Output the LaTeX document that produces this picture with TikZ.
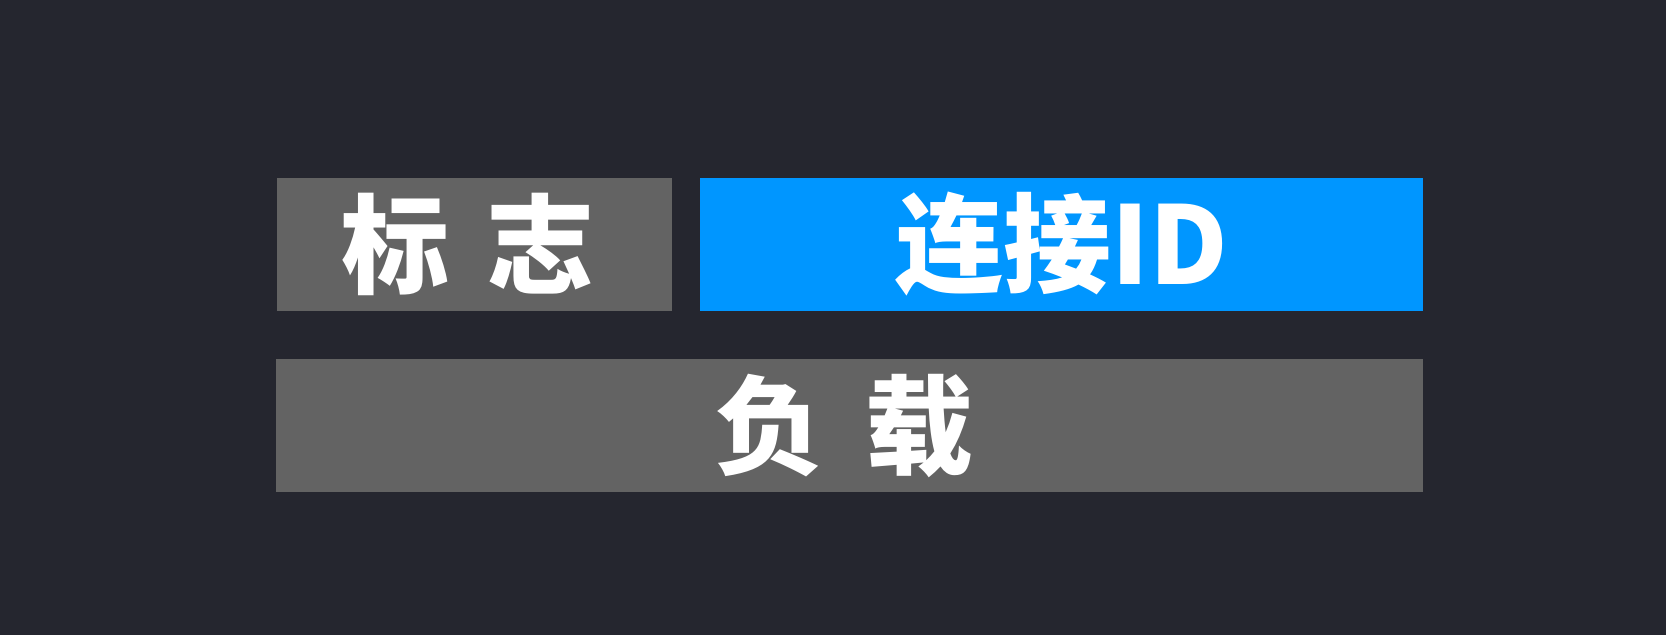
\documentclass[tikz,border=0pt]{standalone}
\usepackage{fontspec}
\newfontfamily\cjk{Noto Sans CJK SC}
\definecolor{bg}{HTML}{25262F}
\definecolor{boxgray}{HTML}{636363}
\definecolor{boxblue}{HTML}{0096FF}
\tikzset{
  field/.style={inner sep=0pt, text=white, font=\cjk\bfseries\fontsize{108}{120}\selectfont}
}
\begin{document}
\begin{tikzpicture}[x=1pt,y=-1pt]
\fill[bg] (0,0) rectangle (1666,635);
\useasboundingbox (0,0) rectangle (1666,635);
\fill[boxgray] (277,178) rectangle (672,311);
\fill[boxblue] (700,178) rectangle (1423,311);
\fill[boxgray] (276,359) rectangle (1423,492);
\node[field] (flag) at (468,244.5) {标\hspace{38pt}志};
\node[field] (cid) at (1061.5,244.5) {连接ID};
\node[field] (load) at (844.5,425.5) {负\hspace{43pt}载};
\end{tikzpicture}
\end{document}
